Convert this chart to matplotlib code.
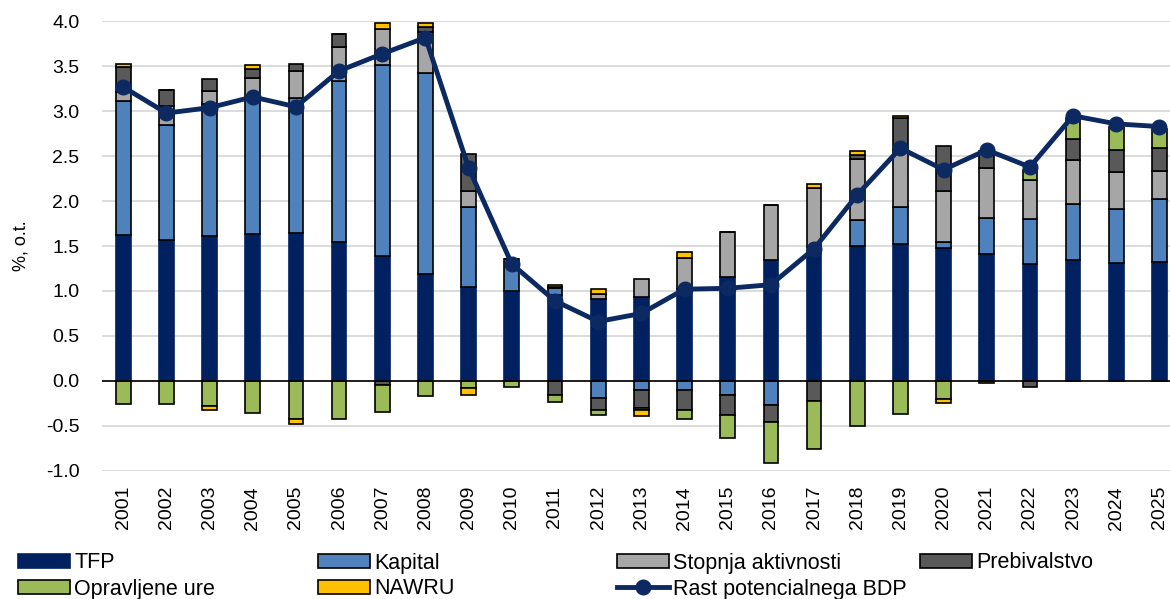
import matplotlib
matplotlib.use('Agg')
import matplotlib.pyplot as plt
from matplotlib.patches import Patch
from matplotlib.lines import Line2D
import numpy as np

plt.rcParams['font.family'] = ['Liberation Sans', 'DejaVu Sans']
plt.rcParams['axes.unicode_minus'] = False

years = [str(y) for y in range(2001, 2026)]

# contributions to potential GDP growth, p.p.
tfp = [1.62, 1.57, 1.61, 1.63, 1.64, 1.54, 1.39, 1.19, 1.05, 1.00,
       0.95, 0.91, 0.93, 1.02, 1.16, 1.34, 1.49, 1.50, 1.52, 1.48,
       1.41, 1.30, 1.34, 1.31, 1.32]
kapital = [1.49, 1.28, 1.47, 1.51, 1.51, 1.80, 2.12, 2.24, 0.89, 0.36,
           0.08, -0.19, -0.10, -0.10, -0.16, -0.27, 0.00, 0.29, 0.41, 0.07,
           0.40, 0.50, 0.63, 0.60, 0.70]
stopnja = [0.11, 0.21, 0.15, 0.235, 0.30, 0.38, 0.41, 0.45, 0.17, 0.00,
           0.02, 0.06, 0.20, 0.35, 0.50, 0.62, 0.66, 0.68, 0.64, 0.56,
           0.56, 0.44, 0.49, 0.41, 0.32]
prebivalstvo = [0.27, 0.18, 0.13, 0.10, 0.08, 0.14, -0.05, 0.06, 0.41, 0.00,
                -0.16, -0.14, -0.20, -0.23, -0.22, -0.19, -0.22, 0.04, 0.35, 0.50,
                0.19, -0.07, 0.23, 0.25, 0.25]
opravljene = [-0.26, -0.26, -0.28, -0.36, -0.43, -0.42, -0.30, -0.17, -0.085, -0.07,
              -0.07, -0.05, -0.03, -0.09, -0.26, -0.45, -0.54, -0.50, -0.37, -0.20,
              -0.02, 0.11, 0.23, 0.26, 0.21]
nawru = [0.04, 0.00, -0.04, 0.045, -0.05, 0.00, 0.06, 0.04, -0.075, 0.00,
         0.02, 0.05, -0.06, 0.06, 0.00, 0.00, 0.04, 0.05, 0.03, -0.05,
         0.00, 0.00, 0.00, 0.00, 0.00]
rast = [3.27, 2.98, 3.04, 3.16, 3.05, 3.45, 3.64, 3.82, 2.37, 1.30,
        0.89, 0.66, 0.75, 1.02, 1.03, 1.07, 1.47, 2.07, 2.59, 2.35,
        2.57, 2.38, 2.95, 2.86, 2.83]

series = [
    ('TFP', tfp, '#002060', '#002060'),
    ('Kapital', kapital, '#4F81BD', 'black'),
    ('Stopnja aktivnosti', stopnja, '#A6A6A6', 'black'),
    ('Prebivalstvo', prebivalstvo, '#595959', 'black'),
    ('Opravljene ure', opravljene, '#9BBB59', 'black'),
    ('NAWRU', nawru, '#FFC000', 'black'),
]
line_color = '#0C2A61'

fig = plt.figure(figsize=(11.7, 5.99), dpi=100)
ax = fig.add_axes([0.0869, 0.2142, 0.9225, 0.75])

x = np.arange(len(years))
pos_bottom = np.zeros(len(years))
neg_bottom = np.zeros(len(years))
for name, vals, fc, ec in series:
    v = np.array(vals, dtype=float)
    bottom = np.where(v >= 0, pos_bottom, neg_bottom)
    ax.bar(x, v, 0.34, bottom=bottom, color=fc, edgecolor=ec,
           linewidth=1.2, zorder=3)
    pos_bottom += np.where(v >= 0, v, 0)
    neg_bottom += np.where(v < 0, v, 0)

ax.plot(x, rast, color=line_color, lw=3.5, marker='o', markersize=10.5, zorder=5)

ax.axhline(0, color='black', lw=1.2, zorder=4)
ax.set_xlim(-0.5, len(years) - 0.5)
ax.set_ylim(-1.0, 4.0)
ax.set_yticks(np.arange(-1.0, 4.01, 0.5))
ax.set_yticklabels(['%.1f' % t for t in np.arange(-1.0, 4.01, 0.5)])
ax.set_xticks(x)
ax.set_xticklabels(years, rotation=90)
ax.grid(axis='y', color='#D9D9D9', lw=1.3, zorder=0)
ax.set_axisbelow(True)
for s in ax.spines.values():
    s.set_visible(False)
ax.tick_params(axis='both', length=0, labelsize=14)
ax.tick_params(axis='y', pad=16)
ax.tick_params(axis='x', pad=11)
ax.set_ylabel('%, o.t.', fontsize=13, labelpad=12)

# legend, entry by entry
handles = [Patch(facecolor=fc, edgecolor=ec, linewidth=1.2) for _, _, fc, ec in series]
handles.append(Line2D([0], [0], color=line_color, lw=3.5, marker='o', markersize=10.5))
labels = [s[0] for s in series] + ['Rast potencialnega BDP']
col_x = [18, 318, 617, 920]
row_y = [563, 589]
for i, (h, lab) in enumerate(zip(handles, labels)):
    r, c = divmod(i, 4)
    fig.legend(handles=[h], labels=[lab], loc='center left',
               bbox_to_anchor=(col_x[c] / 1170, 1 - row_y[r] / 599),
               frameon=False, fontsize=15.5, handlelength=2.42, handleheight=0.65,
               handletextpad=0.2, borderpad=0, borderaxespad=0, numpoints=1)

fig.savefig('out.png', dpi=100)
